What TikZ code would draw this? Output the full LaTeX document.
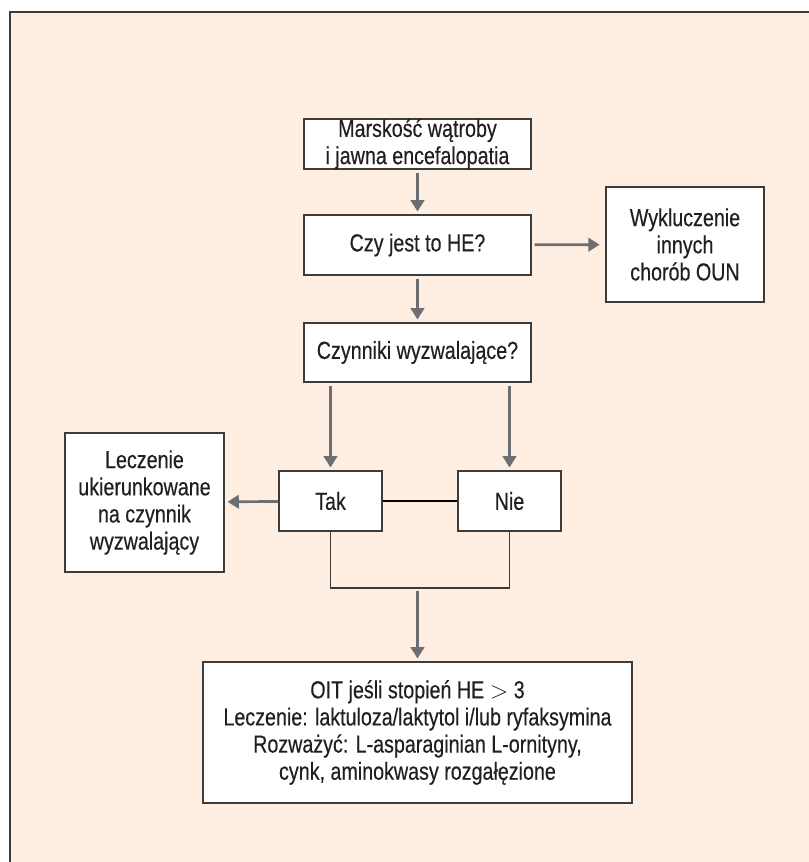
\documentclass[tikz,border=0pt]{standalone}
\usepackage{fontspec}
\setmainfont{Liberation Sans}[FakeStretch=0.8, FakeBold=0.3]
\usetikzlibrary{arrows.meta}
\definecolor{bgpeach}{HTML}{FDEEE1}
\definecolor{arrgray}{HTML}{6D6E71}
\definecolor{boxline}{HTML}{3C3C3C}
\definecolor{txt}{HTML}{231F20}
\begin{document}
\begin{tikzpicture}[x=0.025cm, y=-0.025cm,
		box/.style={draw=boxline, line width=1pt, fill=white, align=center, inner sep=0pt, text=txt, font=\fontsize{17.5}{19.3}\selectfont},
		arr/.style={draw=arrgray, line width=1.9pt, -{Triangle[length=8pt,width=9.5pt]}, shorten >=2pt, shorten <=2pt} ]
		\useasboundingbox (0,0) rectangle (809,862);
		\fill[bgpeach] (10,12) rectangle (809,862);
		\draw[boxline, line width=1.4pt] (809,12) -- (10,12) -- (10,862);
		\node[box, minimum width=5.675cm, minimum height=1.2cm] (mars) at (417.5,144) {Marskość wątroby\\i jawna encefalopatia};
		\node[box, minimum width=5.675cm, minimum height=1.5cm] (czy) at (417.5,245) {Czy jest to HE?};
		\node[box, minimum width=3.95cm, minimum height=2.875cm] (oun) at (685,244.5) {Wykluczenie\\innych\\chorób OUN};
		\node[box, minimum width=5.675cm, minimum height=1.475cm] (czyn) at (417.5,352.5) {Czynniki wyzwalające?};
		\node[box, minimum width=2.575cm, minimum height=1.5cm] (tak) at (330.5,501) {Tak};
		\node[box, minimum width=2.575cm, minimum height=1.5cm] (nie) at (509.5,501) {Nie};
		\node[box, minimum width=3.975cm, minimum height=3.475cm] (lecz) at (144.5,502.5) {Leczenie\\ukierunkowane\\na czynnik\\wyzwalający};
		\node[box, minimum width=10.725cm, minimum height=3.525cm] (oit) at (417.5,732.5) {OIT jeśli stopień HE $>$ 3\\Leczenie: laktuloza/laktytol i/lub ryfaksymina\\Rozważyć: L-asparaginian L-ornityny,\\cynk, aminokwasy rozgałęzione};
		\coordinate (merge) at (417.5,588);
		\draw[arr] (mars) -- (czy);
		\draw[arr, shorten >=4pt] (czy) -- (oun);
		\draw[arr] (czy) -- (czyn);
		\foreach \x in {tak, nie}
			\draw[arr] (czyn.south -| \x.north) -- (\x.north);
		\draw[black, line width=2pt] (tak) -- (nie);
		\draw[arr, shorten <=0pt] (tak) -- (lecz);
		\draw[boxline, line width=1pt] (tak.south) |- (merge) -| (nie.south);
		\draw[arr] (merge) -- (oit);
	\end{tikzpicture}
\end{document}
